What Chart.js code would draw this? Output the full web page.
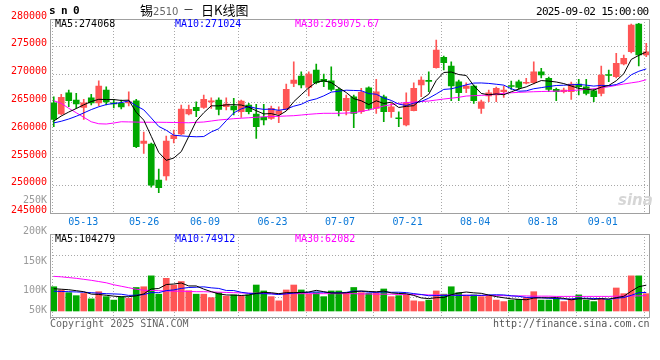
<!DOCTYPE html>
<html lang="zh-CN">
<head>
<meta charset="UTF-8">
<title>锡2510 日K线图</title>
<script src="https://cdn.jsdelivr.net/npm/chart.js"></script>
<style>
  body { margin: 0; background: #fff; }
  #wrap { position: relative; width: 660px; height: 360px; overflow: hidden; background: #fff;
          font-family: "DejaVu Sans Mono", monospace; }
  #wrap canvas { position: absolute; left: 0; }
  .t { position: absolute; white-space: nowrap; font-size: 10px; line-height: 10px; z-index: 5; }
</style>
</head>
<body>
<div id="wrap">
  <canvas id="kChart" width="660" height="232" style="top:0"></canvas>
  <canvas id="volChart" width="660" height="150" style="top:190px"></canvas>

  <div class="t" style="left:49px;top:5px;font-size:11px;line-height:11px;font-weight:bold;letter-spacing:5.4px">sn0</div>
  <div class="t" style="left:140px;top:3px;font:13px/13px 'Noto Sans CJK SC'">锡<span style="font:10px 'DejaVu Sans';color:#666">2510</span></div>
  <div class="t" style="left:183px;top:3px;font:11px/13px 'Noto Sans CJK SC'">－</div>
  <div class="t" style="left:201px;top:3px;font:13px/13px 'Noto Sans CJK SC'">日K线图</div>
  <div class="t" style="left:536px;top:6px;font-size:11px;line-height:11px;letter-spacing:-0.7px">2025-09-02 15:00:00</div>

  <div class="t" style="left:55px;top:19px;color:#000">MA5:274068</div>
  <div class="t" style="left:175px;top:19px;color:#0000ff">MA10:271024</div>
  <div class="t" style="left:295px;top:19px;color:#ff00ff">MA30:269075.67</div>

  <div class="t" style="left:55px;top:234px;color:#000">MA5:104279</div>
  <div class="t" style="left:175px;top:234px;color:#0000ff">MA10:74912</div>
  <div class="t" style="left:295px;top:234px;color:#ff00ff">MA30:62082</div>

  <div class="t" style="left:618px;top:193px;font:italic bold 15px/15px 'DejaVu Sans';color:#d6d6d6">sina</div>

  <div class="t" style="left:50px;top:319px;color:#666">Copyright 2025 SINA.COM</div>
  <div class="t" style="left:493px;top:319px;color:#555">http://finance.sina.com.cn</div>
</div>

<script>
// trading days shown on the chart
const dates = ['05-13','05-14','05-15','05-16','05-19','05-20','05-21','05-22','05-23','05-26',
  '05-27','05-28','05-29','05-30','06-03','06-04','06-05','06-06','06-09','06-10',
  '06-11','06-12','06-13','06-16','06-17','06-18','06-19','06-20','06-23','06-24',
  '06-25','06-26','06-27','06-30','07-01','07-02','07-03','07-04','07-07','07-08',
  '07-09','07-10','07-11','07-14','07-15','07-16','07-17','07-18','07-21','07-22',
  '07-23','07-24','07-25','07-28','07-29','07-30','07-31','08-01','08-04','08-05',
  '08-06','08-07','08-08','08-11','08-12','08-13','08-14','08-15','08-18','08-19',
  '08-20','08-21','08-22','08-25','08-26','08-27','08-28','08-29','09-01','09-02'];

const opens = [264930,262900,266730,265420,264110,265830,264880,267220,264930,264830,
  264880,265290,257590,257500,251020,251740,258450,259300,262900,264110,
  264110,265060,265420,264210,264340,263310,264520,262900,262310,262130,
  262900,263750,268430,269740,267710,270820,269150,268890,267350,263490,
  266010,263310,267630,263930,266010,263310,262230,260920,263490,268120,
  268970,271230,273110,271540,268710,267530,267940,263930,266140,266320,
  266910,268030,268710,268440,268530,270510,269330,267350,266910,266910,
  268300,267810,267090,266630,270010,269610,271900,274110,279100,273520];
const closes = [261950,265910,265290,264700,264930,264880,267940,265060,264700,264160,
  265110,257010,258040,250120,249630,258040,259070,263800,263750,263490,
  265550,265290,263750,264700,263620,265240,263310,260610,261820,263930,
  263490,267350,269020,268120,270100,268530,268710,267350,263490,265730,
  263030,266810,263930,266910,263310,264210,262050,264930,267530,269020,
  268790,274420,272130,267940,266730,267940,265290,265110,266730,267530,
  267220,267850,267710,268620,270510,269920,267350,266910,267220,268300,
  267810,266630,266010,269920,269830,272030,272930,278920,273520,274110];
const highs = [266010,266450,267220,266630,265550,266450,268890,267810,265550,265420,
  266910,265550,259660,257680,253000,258940,260020,264520,264520,265110,
  266320,265830,265830,265830,265730,265420,264830,264650,264650,264340,
  264210,268300,272310,270510,270510,271900,270100,271410,267580,266320,
  266320,267530,267810,269150,266320,264830,263310,266730,268530,269610,
  270510,276220,273340,272310,269020,268530,268120,265420,267220,267760,
  267940,268840,269020,269330,272310,271130,269560,267580,267580,268660,
  269150,269150,267400,271540,270820,273830,273520,279100,279230,275630];
const lows = [260610,262720,264210,263930,261950,264520,264340,264520,263980,263800,
  264340,256830,255830,249760,248730,251020,257680,259200,262720,262410,
  263930,263930,262720,263620,262720,262310,262900,258530,260920,261950,
  261330,263620,267810,267580,266140,268300,267810,267040,262540,262720,
  260430,263030,263620,263030,261510,262310,260610,260740,263440,266010,
  266910,271130,270820,265290,265290,266730,264830,263030,265110,265110,
  265910,267350,267350,268300,268300,269380,266910,265290,266680,265550,
  266320,266320,265110,266140,268710,269380,271720,273880,271540,273210];

const ma5 = [261640,262540,263260,263890,264556,265142,265548,265502,265502,265348,
  265394,263208,261804,258888,255982,254568,254980,256132,258858,261630,
  263132,264376,264366,264556,264582,264520,264124,263496,262920,262982,
  262632,263440,265122,266382,267616,268624,268896,268562,267636,266762,
  265662,265282,264598,265282,264798,265034,264082,264282,264406,265548,
  266464,268938,270378,270460,270002,269832,268006,266602,266360,266520,
  266376,266888,267408,267786,268382,268922,268822,268662,268382,267940,
  267518,267374,267194,267734,268040,268884,270144,272726,273446,274068];
const ma10 = [261300,261600,262000,262500,263100,263700,264200,264600,264800,264952,
  265268,264378,263653,262195,260665,259981,259094,258968,258873,258806,
  258850,259678,260249,261707,263106,263826,264250,263931,263738,263782,
  263576,263782,264309,264651,265299,265628,266168,266842,267009,267189,
  267143,267089,266580,266459,265780,265348,264682,264440,264844,265173,
  265749,266510,267330,267433,267775,268148,268472,268490,268410,268261,
  268104,267447,267005,267073,267451,267649,267855,268035,268084,268161,
  268220,268098,267928,268058,267990,268201,268759,269960,270590,271024];
const ma30 = [265290,264830,263930,263130,262310,261510,261150,261100,261280,261510,
  261480,261450,261420,261420,261420,261400,261380,261350,261330,261400,
  261460,261640,261820,261940,262060,262150,262230,262320,262410,262450,
  262490,262550,262600,262720,262850,262950,263030,263030,263030,263080,
  263130,263380,263620,263980,264340,264590,264830,264950,265060,265150,
  265240,265420,265600,265750,265910,266140,266200,266260,266320,266470,
  266630,266720,266810,266860,266910,266950,266990,267010,267040,267130,
  267220,267340,267450,267630,267810,268060,268300,268510,268710,269075.67];

const volumes = [98000,85000,74000,62000,71000,49000,78000,58000,44000,58000,
  51000,95000,98000,142000,68000,132000,105000,119000,82000,68000,
  68000,54000,74000,60000,65000,60000,65000,105000,81000,58000,
  41000,85000,105000,85000,68000,74000,58000,81000,81000,74000,
  95000,74000,71000,74000,89000,58000,62000,65000,41000,38000,
  44000,81000,68000,98000,74000,62000,65000,58000,62000,44000,
  38000,44000,47000,54000,78000,44000,44000,51000,38000,49000,
  65000,44000,38000,51000,44000,93000,70000,142000,142000,70000];
const volMa5 = [90000,88000,86000,82000,78000,68200,66800,63600,60000,57400,
  57800,61200,69200,88800,90800,107000,109000,113200,101200,101200,
  88400,78200,69200,64800,64200,62600,64800,71000,75200,73800,
  70000,74000,74000,74800,76800,83400,78000,73200,72400,73600,
  77800,81000,79000,77600,80600,73200,70800,69600,63000,52800,
  50000,53800,54400,65800,73000,76600,73400,71400,64200,58200,
  53400,49200,47000,45400,52200,53400,53400,54200,51000,45200,
  49400,49400,46800,49400,48400,54000,59200,80000,98200,104279];
const volMa10 = [80000,79000,78000,77000,76000,74000,72000,70000,69000,67700,
  63000,64000,66400,74400,74100,82400,85100,91200,95000,96000,
  97700,93600,91200,83000,82700,75500,71500,70100,70000,69000,
  66300,69400,72500,75000,75300,76700,76000,73600,73600,75200,
  80600,79500,76100,75000,77100,75500,75900,74300,70300,66700,
  61600,62300,62000,64400,62900,63300,63600,62900,65000,65600,
  65000,61300,59200,54800,55200,53400,51300,50600,48200,48700,
  51400,51400,50500,50200,46800,51700,54300,63400,73800,74912];
const volMa30 = [140000,138000,135000,132000,128000,124000,119000,114000,106000,100000,
  94000,88000,84000,83000,82000,81000,80000,80000,79000,78000,
  78000,77000,76000,75000,74000,73000,72000,72000,71000,70000,
  70000,70000,70000,70000,70000,70000,70000,70000,70000,70000,
  70000,69000,69000,68000,68000,68000,67000,67000,66000,66000,
  65000,65000,65000,64000,64000,64000,63000,63000,63000,62000,
  62000,61000,61000,61000,60000,60000,60000,59000,59000,59000,
  59000,59000,59000,59000,59000,60000,60000,61000,61000,62082];

// day indexes with a vertical grid line, and the volume axis texts
const gridDays = [0, 9, 18, 28, 38, 48, 58, 68, 78];
const volTickLabels = ['50K', '100K', '150K', '200K', '250K'];

const RED = '#ff5555', GREEN = '#00a800';
const GRID = '#a8a8a8';
const MONO = 'DejaVu Sans Mono';
const candleColor = closes.map((c, i) => c >= opens[i] ? RED : GREEN);

// axis sizes are fixed so both panels line up like the original
const fixW = w => s => { s.width = w; s.paddingTop = 0; s.paddingBottom = 0; };
const fixH = h => s => { s.height = h; s.paddingLeft = 0; s.paddingRight = 0; };

// panel frame
const framePlugin = {
  id: 'frame',
  afterDraw(chart) {
    const { ctx, chartArea: a } = chart;
    ctx.save();
    ctx.strokeStyle = '#a0a0a0';
    ctx.lineWidth = 1;
    ctx.strokeRect(Math.round(a.left) + 0.5, Math.round(a.top) + 0.5,
      Math.round(a.right - a.left) - 1, Math.round(a.bottom - a.top) - 1);
    ctx.restore();
  }
};

function maLine(label, data, color, yAxisID) {
  return { type: 'line', label, data, yAxisID, borderColor: color, borderWidth: 1,
    pointRadius: 0, tension: 0, order: 0 };
}

// day grid shared by both panels (one slot = 7.6px in the original grid)
const dayAxis = {
  type: 'linear', position: 'bottom', min: 0, max: 600 / 7.6,
  afterBuildTicks: s => { s.ticks = gridDays.map(v => ({ value: v })); },
  grid: { color: GRID, drawTicks: false },
  border: { display: false, dash: [1, 2] },
  ticks: { display: false },
  afterFit: fixH(0)
};

// ---- price panel ----
new Chart(document.getElementById('kChart'), {
  type: 'bar',
  data: {
    labels: dates,
    datasets: [
      maLine('MA5', ma5, '#000000', 'y'),
      maLine('MA10', ma10, '#0000ff', 'y'),
      maLine('MA30', ma30, '#ff00ff', 'y'),
      {
        label: 'body', data: opens.map((o, i) => [o, closes[i]]), yAxisID: 'y',
        backgroundColor: candleColor, barThickness: 6, minBarLength: 1, grouped: false, order: 1
      },
      {
        label: 'wick', data: lows.map((l, i) => [l, highs[i]]), yAxisID: 'y',
        backgroundColor: candleColor, barThickness: 1, grouped: false, order: 2
      }
    ]
  },
  options: {
    responsive: false,
    animation: false,
    layout: { padding: { left: 0, right: 10, top: 19, bottom: 0 } },
    plugins: { legend: { display: false }, tooltip: { enabled: false } },
    scales: {
      x: { display: false },
      xd: dayAxis,
      xl: {
        type: 'linear', position: 'bottom', min: 0, max: 600 / 7.6,
        afterBuildTicks: s => { s.ticks = [0, 9, 18, 28, 38, 48, 58, 68, 76.9].map(v => ({ value: v })); },
        grid: { display: false, drawTicks: false },
        border: { display: false },
        ticks: {
          color: '#0a78d8', font: { family: MONO, size: 10 }, padding: 3,
          maxRotation: 0, autoSkip: false,
          callback: (v, k) => dates[gridDays[k]]
        },
        afterFit: fixH(18.5)
      },
      y: {
        position: 'left', min: 245000, max: 280000,
        ticks: {
          stepSize: 5000, color: '#ff0000', font: { family: MONO, size: 10 },
          padding: 3, labelOffset: -3, callback: v => String(v)
        },
        grid: { color: GRID, drawTicks: false },
        border: { display: false, dash: [1, 2] },
        afterFit: fixW(50)
      }
    }
  },
  plugins: [framePlugin]
});

// ---- volume panel ----
new Chart(document.getElementById('volChart'), {
  type: 'bar',
  data: {
    labels: dates,
    datasets: [
      maLine('MA5', volMa5, '#000000', 'yv'),
      maLine('MA10', volMa10, '#0000ff', 'yv'),
      maLine('MA30', volMa30, '#ff00ff', 'yv'),
      {
        label: '成交量', data: volumes, yAxisID: 'yv',
        backgroundColor: candleColor, barThickness: 6, order: 1
      }
    ]
  },
  options: {
    responsive: false,
    animation: false,
    layout: { padding: { left: 0, right: 10, top: 44, bottom: 22 } },
    plugins: { legend: { display: false }, tooltip: { enabled: false } },
    scales: {
      x: { display: false },
      xd: dayAxis,
      yv: {
        position: 'left', min: -28280, max: 311080,
        // label places as printed on the original panel
        afterBuildTicks: s => { s.ticks = [1200, 84800, 202000, 320400, 445400].map(v => ({ value: v })); },
        ticks: {
          color: '#9a9a9a', font: { family: MONO, size: 10 }, padding: 3, autoSkip: false,
          callback: (v, k) => volTickLabels[k]
        },
        grid: { display: false, drawTicks: false },
        border: { display: false },
        afterFit: fixW(50)
      },
      yg: {
        position: 'left', min: 0, max: 4,
        ticks: { display: false, stepSize: 1 },
        grid: { color: GRID, drawTicks: false },
        border: { display: false, dash: [1, 2] },
        afterFit: fixW(0)
      }
    }
  },
  plugins: [framePlugin]
});
</script>
</body>
</html>
